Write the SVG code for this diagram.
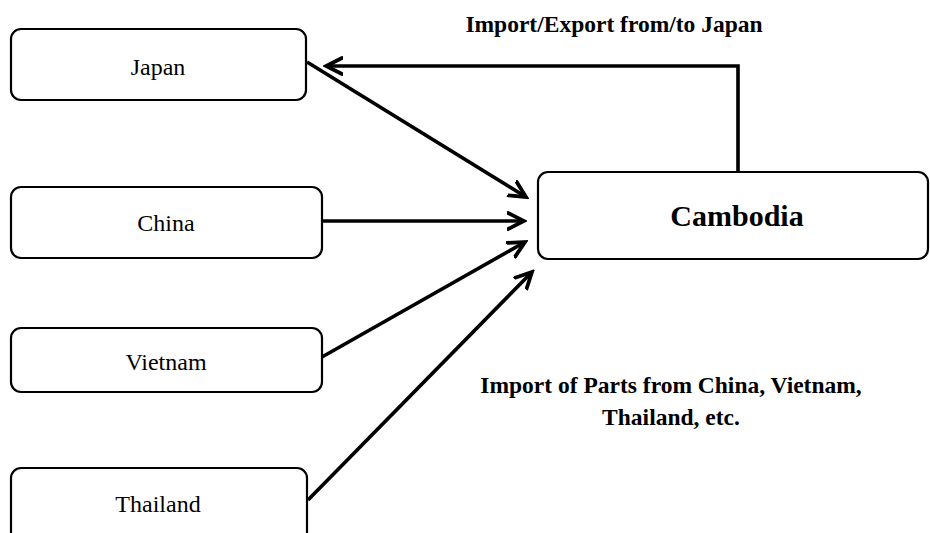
<svg xmlns="http://www.w3.org/2000/svg" width="930" height="533" viewBox="0 0 930 533">
  <style>
    .box { fill: #fff; stroke: #000; stroke-width: 2.2; }
    .lbl { font-family: "Liberation Serif", "Times New Roman", serif; font-size: 24px; fill: #000; text-anchor: middle; }
    .bold { font-family: "Liberation Serif", "Times New Roman", serif; font-weight: bold; fill: #000; text-anchor: middle; }
    .edge { fill: none; stroke: #000; stroke-width: 3.6; }
  </style>
  <defs>
    <marker id="arrow" markerUnits="userSpaceOnUse" viewBox="0 0 20 20" refX="17" refY="10" markerWidth="20" markerHeight="20" orient="auto">
      <path d="M1,2 L17,10 L1,18" fill="none" stroke="#000" stroke-width="3.8" stroke-linecap="round" stroke-linejoin="miter"/>
    </marker>
  </defs>

  <g id="connectors">
    <line class="edge" x1="307" y1="62" x2="526" y2="197" marker-end="url(#arrow)"/>
    <line class="edge" x1="322" y1="221" x2="524" y2="221" marker-end="url(#arrow)"/>
    <line class="edge" x1="322" y1="357" x2="525" y2="242" marker-end="url(#arrow)"/>
    <line class="edge" x1="308" y1="500" x2="532" y2="272" marker-end="url(#arrow)"/>
    <polyline class="edge" points="738,172 738,66 326,66" marker-end="url(#arrow)"/>
  </g>

  <g id="japan">
    <rect class="box" x="11" y="29" width="295" height="71" rx="10"/>
    <text class="lbl" x="158" y="75">Japan</text>
  </g>
  <g id="china">
    <rect class="box" x="11" y="187" width="311" height="71" rx="10"/>
    <text class="lbl" x="166" y="231">China</text>
  </g>
  <g id="vietnam">
    <rect class="box" x="11" y="328" width="311" height="64" rx="10"/>
    <text class="lbl" x="166" y="370">Vietnam</text>
  </g>
  <g id="thailand">
    <rect class="box" x="11" y="468" width="296" height="80" rx="10"/>
    <text class="lbl" x="158" y="512">Thailand</text>
  </g>
  <g id="cambodia">
    <rect class="box" x="538" y="172" width="390" height="87" rx="10"/>
    <text class="bold" x="737" y="226" font-size="30">Cambodia</text>
  </g>

  <g id="labels">
    <text class="bold" x="614" y="32" font-size="23.5">Import/Export from/to Japan</text>
    <text class="bold" x="671" y="393" font-size="23.5">Import of Parts from China, Vietnam,</text>
    <text class="bold" x="671" y="425" font-size="23.5">Thailand, etc.</text>
  </g>
</svg>
